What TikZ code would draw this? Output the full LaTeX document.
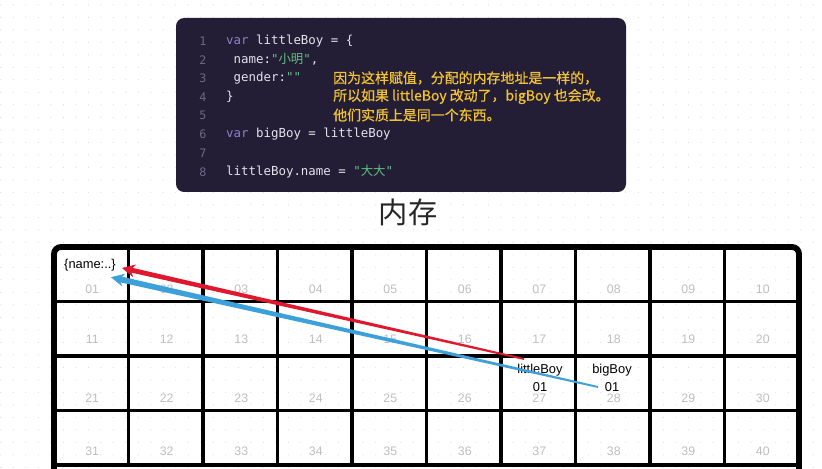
\documentclass[tikz,border=0pt]{standalone}
\usepackage{fontspec}
\setmainfont{Liberation Sans}
\setmonofont{DejaVu Sans Mono}
\newfontfamily\cjk{Noto Sans CJK SC}
\newfontfamily\cjknote[FakeBold=0.6]{Noto Sans CJK SC}
\usepackage{tikz}
\usetikzlibrary{positioning, calc, arrows.meta}

\definecolor{codebg}{HTML}{241D36}
\definecolor{codefg}{HTML}{E4E2EC}
\definecolor{codekw}{HTML}{8E80CC}
\definecolor{codestr}{HTML}{5EC27E}
\definecolor{linegray}{HTML}{6E6887}
\definecolor{noteyellow}{HTML}{F2C233}
\definecolor{dotgray}{HTML}{D4D4D4}
\definecolor{numgray}{HTML}{BEBEBE}
\definecolor{memred}{HTML}{E0182D}
\definecolor{memblue}{HTML}{3CA0DA}

\tikzset{
    codeline/.style={anchor=west, inner sep=0, text=codefg, font=\fontsize{10.6}{12}\ttfamily},
    linenum/.style={inner sep=0, text=linegray, font=\fontsize{10}{12}\ttfamily},
    notetext/.style={anchor=west, inner sep=0, text=noteyellow, font=\fontsize{11.9}{14}\cjknote},
    cellnum/.style={inner sep=0, text=numgray, font=\fontsize{10.5}{12}\selectfont},
    celltext/.style={inner sep=0, text=black, font=\fontsize{11}{13}\selectfont},
    gridline/.style={black, line width=3.4pt},
    gridborder/.style={black, line width=5pt, rounded corners=6pt}
}

% tapered arrow: colour, tail, tip, tail half width, head half width
\newcommand{\memarrow}[5]{%
    \coordinate (base) at ($(#3)!7pt!(#2)$);
    \fill[#1] ($(#2)!#4!90:(base)$) -- ($(base)!#5!-90:(#2)$)
        -- ($(base)!#5!90:(#2)$) -- ($(#2)!#4!-90:(base)$) -- cycle;
    \draw[#1, line width=0.5pt, -{Stealth[length=11pt, width=11pt, inset=3.5pt]}]
        ($(#3)!12pt!(#2)$) -- (#3);
}

\begin{document}
\begin{tikzpicture}[x=0.3mm, y=-0.3mm]
    \useasboundingbox (0,0) rectangle (822,469);

    \def\xcells{10}
    \def\ycells{4}
    \def\cellw{74.5}
    \def\cellh{54.5}
    \def\gridx{54}
    \def\gridy{247}

    % dotted background
    \foreach \i in {0,...,65}
    {
        \foreach \j in {0,...,37}
        {
            \fill[dotgray] (0.8 + \i * 12.5, 4.8 + \j * 12.5) circle (0.55);
        }
    }

    % code block
    \fill[codebg, rounded corners=7pt] (176,18) rectangle (626,192);
    \foreach \i in {1,...,8}
    {
        \node[linenum] (ln\i) at (203, 41 + \i * 18.7 - 18.7) {\i};
    }
    \node[codeline] (code1) at (226, 41.0) {\textcolor{codekw}{var} littleBoy = \{};
    \node[codeline] (code2) at (226, 59.7) {\ name:\textcolor{codestr}{"{\cjk 小明}"},};
    \node[codeline] (code3) at (226, 78.4) {\ gender:\textcolor{codestr}{""}};
    \node[codeline] (code4) at (226, 97.1) {\}};
    \node[codeline] (code6) at (226, 134.5) {\textcolor{codekw}{var} bigBoy = littleBoy};
    \node[codeline] (code8) at (226, 171.9) {littleBoy.name = \textcolor{codestr}{"{\cjk 大大}"}};

    \node[notetext] (note1) at (333, 78) {因为这样赋值，分配的内存地址是一样的，};
    \node[notetext] (note2) at (333, 96.5) {所以如果 littleBoy 改动了，bigBoy 也会改。};
    \node[notetext] (note3) at (333, 115) {他们实质上是同一个东西。};

    % title
    \node[font=\fontsize{25}{30}\cjk, text=black!85] (title) at (408,212) {内存};

    % draw vertical lines
    \foreach \x in {1,...,9}
    {
        \draw[gridline] (\gridx + \x * \cellw, \gridy) -- (\gridx + \x * \cellw, \gridy + \ycells * \cellh);
    }

    % draw horizontal lines
    \foreach \y in {1,...,\ycells}
    {
        \draw[gridline] (\gridx, \gridy + \y * \cellh) -- (\gridx + \xcells * \cellw, \gridy + \y * \cellh);
    }

    % border
    \draw[gridborder] (\gridx, 472) -- (\gridx, \gridy) -- (\gridx + \xcells * \cellw, \gridy)
        -- (\gridx + \xcells * \cellw, 472);

    % cell numbers
    \foreach \r/\ny in {0/289, 1/339, 2/398, 3/451}
    {
        \foreach \c in {0,...,9}
        {
            \pgfmathtruncatemacro\n{\r * 10 + \c + 1}
            \node[cellnum] (c\n) at (\gridx + \cellw / 2 + 1 + \c * \cellw, \ny) {\ifnum\n<10 0\fi\n};
        }
    }

    % cell contents
    \node[celltext] (obj) at (90,265) {\{name:..\}};
    \node[celltext] (lb) at (540,370) {littleBoy};
    \node[celltext, below=5pt of lb] (lbval) {01};
    \node[celltext] (bb) at (612,370) {bigBoy};
    \node[celltext, below=5pt of bb] (bbval) {01};

    % references
    \coordinate (redtail) at (524,359);
    \coordinate (redtip) at ([shift={(6,3)}]obj.east);
    \coordinate (bluetail) at (598,387);
    \coordinate (bluetip) at ([shift={(-5,6)}]obj.south east);

    \memarrow{memred}{redtail}{redtip}{0.8pt}{2.1pt}
    \memarrow{memblue}{bluetail}{bluetip}{0.8pt}{2.5pt}
\end{tikzpicture}
\end{document}
